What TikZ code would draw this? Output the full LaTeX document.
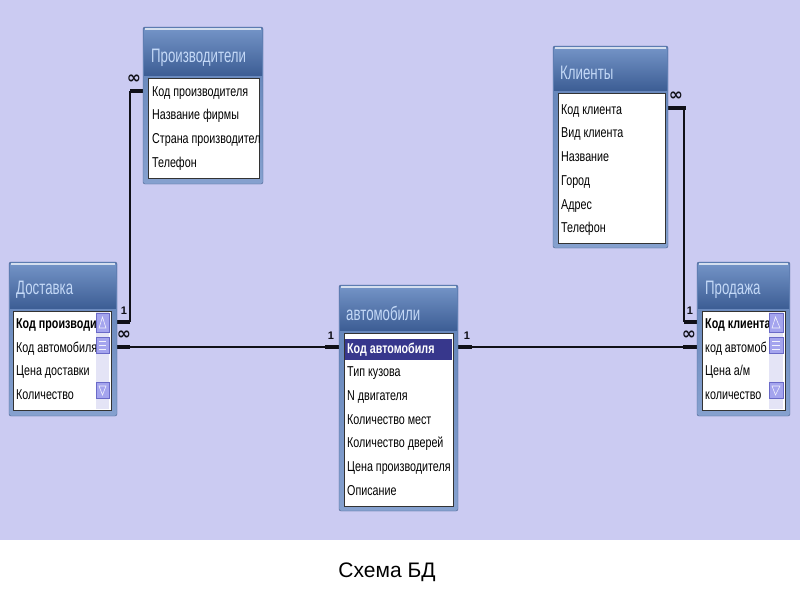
\documentclass[tikz,border=0pt]{standalone}
\usepackage{fontspec}
\setmainfont{Liberation Sans}
\newfontfamily\narrowfont[FakeStretch=0.75]{Liberation Sans}
\newfontfamily\titlenarrow[FakeStretch=0.68]{Liberation Sans}
\newfontfamily\symfont{DejaVu Sans}
\definecolor{bgcol}{HTML}{CBCBF2}
\definecolor{frameedge}{HTML}{4A6290}
\definecolor{frametop}{HTML}{5F80B6}
\definecolor{framebot}{HTML}{86A1CF}
\definecolor{headtop}{HTML}{7393C6}
\definecolor{headbot}{HTML}{3D5E95}
\definecolor{titlecol}{HTML}{C4D9F7}
\definecolor{linecol}{HTML}{101018}
\definecolor{selcol}{HTML}{37378C}
\definecolor{sbtrack}{HTML}{E4E4F6}
\definecolor{sbbtn}{HTML}{A4A4EE}
\definecolor{sbedge}{HTML}{6A6AC8}
\tikzset{
  tframe/.style={rounded corners=2pt, draw=frameedge, top color=frametop, bottom color=framebot},
  theader/.style={top color=headtop, bottom color=headbot},
  tfields/.style={fill=white, draw=black!80, line width=0.7pt},
  ttl/.style={anchor=west, inner sep=0pt, text=titlecol, font=\titlenarrow\fontsize{19.5}{19.5}\selectfont},
  row/.style={anchor=west, inner sep=0pt, text height=10pt, text depth=3pt, font=\narrowfont\fontsize{14.3}{14.3}\selectfont},
  brow/.style={row, font=\narrowfont\bfseries\fontsize{14.3}{14.3}\selectfont},
  bar/.style={line width=4pt, draw=linecol},
  rel/.style={line width=1.5pt, draw=linecol},
  card/.style={inner sep=0pt, font=\bfseries\fontsize{11}{11}\selectfont, text=linecol},
  inf/.style={inner sep=0pt, font=\symfont\bfseries\fontsize{17}{17}\selectfont, text=linecol},
  sbbutton/.style={fill=sbbtn, draw=sbedge, line width=0.6pt},
  sbmark/.style={draw=white!85!sbbtn, line width=0.6pt},
  caption/.style={inner sep=0pt, font=\fontsize{21}{21}\selectfont}
}
\newcommand\dbtab[6]{%
  \draw[tframe] (#1,#2) rectangle (#3,#4);
  \fill[theader] (#1+1,#2+2) rectangle (#3-1,#5-3);
  \fill[white!70!headtop] (#1+2,#2+1) rectangle (#3-2,#2+3);
}
\newcommand\dbfields[4]{\draw[tfields] (#1,#2) rectangle (#3,#4);}
\newcommand\scrollbarat[2]{% left x, right x
  \fill[sbtrack] (#1,312) rectangle (#2,409);
  \draw[sbbutton] (#1,313) rectangle (#2,332);
  \draw[sbmark] (#1+3,328) -- (#1+6.5,317) -- (#2-3,328) -- cycle;
  \draw[sbbutton] (#1,337) rectangle (#2,353);
  \draw[sbmark] (#1+3,341) -- (#2-3,341) (#1+3,345) -- (#2-3,345) (#1+3,349) -- (#2-3,349);
  \draw[sbbutton] (#1,382) rectangle (#2,398);
  \draw[sbmark] (#1+3,386) -- (#1+6.5,395) -- (#2-3,386) -- cycle;
}
\begin{document}
\begin{tikzpicture}[x=1pt,y=-1pt]
\useasboundingbox (0,0) rectangle (800,600);
\fill[white] (0,0) rectangle (800,600);
\fill[bgcol] (0,0) rectangle (800,540);

% ---------------- connectors ----------------
\coordinate (pK) at (146,91);
\coordinate (pKk) at (130,91);
\coordinate (dP) at (117,322);
\coordinate (dPk) at (130,322);
\coordinate (dA) at (117,347);
\coordinate (dAk) at (130,347);
\coordinate (aL) at (339,347);
\coordinate (aLk) at (325,347);
\coordinate (aR) at (458,347);
\coordinate (aRk) at (472,347);
\coordinate (sA) at (697,347);
\coordinate (sAk) at (683,347);
\coordinate (kR) at (665,108);
\coordinate (kRk) at (684,108);
\coordinate (sK) at (697,322);
\coordinate (sKk) at (684,322);

\draw[rel] (pKk) -- (dPk);
\draw[rel] (dAk) -- (aLk);
\draw[rel] (aRk) -- (sAk);
\draw[rel] (kRk) -- (sKk);
\draw[bar] (pKk) -- (pK);
\draw[bar] (dP) -- (dPk);
\draw[bar] (dA) -- (dAk);
\draw[bar] (aLk) -- (aL);
\draw[bar] (aR) -- (aRk);
\draw[bar] (sAk) -- (sA);
\draw[bar] (kR) -- ([xshift=2pt]kRk);
\draw[bar] (sKk) -- (sK);

\node[inf] (lpinf) at (134,79) {∞};
\node[card] (ld1) at (124,311) {1};
\node[inf] (ldinf) at (124,335) {∞};
\node[card] (lal) at (331,336) {1};
\node[card] (lar) at (467,336) {1};
\node[inf] (lsinf) at (689,335) {∞};
\node[card] (ls1) at (690,311) {1};
\node[inf] (lkinf) at (676,96) {∞};

% ---------------- Производители ----------------
\dbtab{143}{27}{263}{184}{78}{178}
\dbfields{148}{78}{259}{178}
\node[ttl] (tProd) at (151,58) {Производители};
\node[row] (pr1) at (152,93) {Код производителя};
\node[row] (pr2) at (152,116) {Название фирмы};
\node[row] (pr3) at (152,140) {Страна производител};
\node[row] (pr4) at (152,164) {Телефон};

% ---------------- Доставка ----------------
\dbtab{9}{262}{117}{416}{311}{410}
\dbfields{13}{311}{111}{410}
\node[ttl] (tDost) at (16,290) {Доставка};
\node[brow] (dr1) at (16,325) {Код производит};
\node[row] (dr2) at (16,349) {Код автомобиля};
\node[row] (dr3) at (16,372) {Цена доставки};
\node[row] (dr4) at (16,396) {Количество};
\scrollbarat{96}{109}

% ---------------- автомобили ----------------
\dbtab{339}{285}{458}{511}{333}{506}
\dbfields{344}{333}{453}{506}
\node[ttl] (tAuto) at (346,313) {автомобили};
\fill[selcol] (345,339) rectangle (452,360);
\node[brow, text=white] (ar1) at (347,350) {Код автомобиля};
\node[row] (ar2) at (347,373) {Тип кузова};
\node[row] (ar3) at (347,397) {N двигателя};
\node[row] (ar4) at (347,421) {Количество мест};
\node[row] (ar5) at (347,444) {Количество дверей};
\node[row] (ar6) at (347,468) {Цена производителя};
\node[row] (ar7) at (347,492) {Описание};

% ---------------- Клиенты ----------------
\dbtab{553}{46}{668}{248}{93}{243}
\dbfields{558}{93}{665}{243}
\node[ttl] (tKl) at (560,73) {Клиенты};
\node[row] (kr1) at (561,111) {Код клиента};
\node[row] (kr2) at (561,134) {Вид клиента};
\node[row] (kr3) at (561,158) {Название};
\node[row] (kr4) at (561,182) {Город};
\node[row] (kr5) at (561,206) {Адрес};
\node[row] (kr6) at (561,229) {Телефон};

% ---------------- Продажа ----------------
\dbtab{697}{262}{790}{416}{311}{410}
\dbfields{702}{311}{785}{410}
\node[ttl] (tProdazha) at (705,290) {Продажа};
\node[brow] (sr1) at (705,325) {Код клиента};
\node[row] (sr2) at (705,349) {код автомоб};
\node[row] (sr3) at (705,372) {Цена а/м};
\node[row] (sr4) at (705,396) {количество};
\scrollbarat{769}{783}

% ---------------- caption ----------------
\node[caption] (cap) at (387,572) {Схема БД};
\end{tikzpicture}
\end{document}
